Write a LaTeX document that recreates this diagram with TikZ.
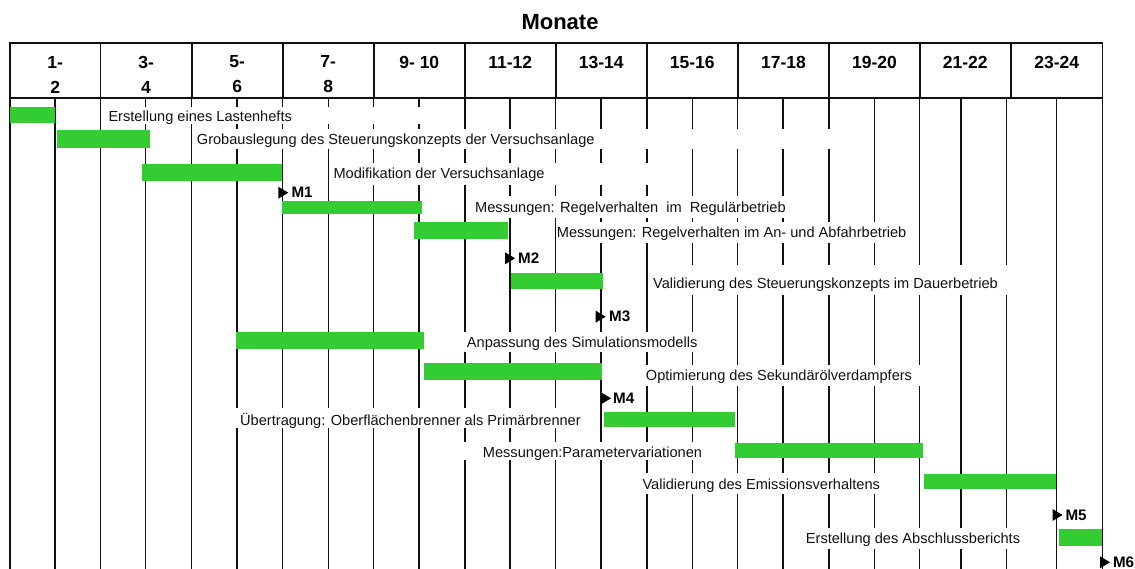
\documentclass[tikz,border=0pt]{standalone}
\usepackage{fontspec}
\setmainfont{Liberation Sans}
\definecolor{bargreen}{HTML}{33CC33}
\definecolor{ink}{HTML}{111111}
\begin{document}
\begin{tikzpicture}[x=1pt,y=-1pt,
  hdrline/.style={line width=1.8pt,draw=ink},
  gridline/.style={line width=1.4pt,draw=ink},
  title/.style={font=\bfseries\fontsize{22}{26}\selectfont,inner sep=0pt},
  hd/.style={font=\bfseries\fontsize{17.5}{25}\selectfont,align=center,inner sep=0pt},
  lbl/.style={font=\fontsize{14.6}{17}\selectfont,anchor=base west,inner sep=0pt,text=ink},
  mst/.style={font=\bfseries\fontsize{15.2}{17}\selectfont,anchor=west,inner sep=0pt},
  blank/.style={fill=white},
  bar/.style={fill=bargreen},
  ms/.pic={\fill[black] (0,-6) -- (10,0) -- (0,6) -- cycle;}
]
\useasboundingbox (0,0) rectangle (1135,569);

% month grid below the header
\foreach \x in {10,55,100.5,145.7,191.7,237,282.5,328.3,373.7,419,465,510,555.7,601,647,692.3,737.5,782.8,829,874.5,919.7,961,1006.5,1056.3,1102.5}
  \draw[gridline] (\x,97) -- (\x,569);

% header frame and two-month columns
\draw[hdrline] (10,43) rectangle (1102.5,98);
\foreach \x in {100.5,191.7,282.7,373.7,465,555.7,647,737.7,829.3,919.7,1011}
  \draw[hdrline] (\x,43) -- (\x,98);

\node[title] (title) at (560,21.7) {Monate};

\node[hd] (h1)  at (55.2,74.5)  {1-\\2};
\node[hd] (h2)  at (146.1,74.5) {3-\\4};
\node[hd] (h3)  at (237.2,74.5) {5-\\6};
\node[hd] (h4)  at (328.2,74.5) {7-\\8};
\node[hd] (h5)  at (419.3,62)   {9- 10};
\node[hd] (h6)  at (510.3,62)   {11-12};
\node[hd] (h7)  at (601.3,62)   {13-14};
\node[hd] (h8)  at (692.3,62)   {15-16};
\node[hd] (h9)  at (783.5,62)   {17-18};
\node[hd] (h10) at (874.5,62)   {19-20};
\node[hd] (h11) at (965.3,62)   {21-22};
\node[hd] (h12) at (1056.7,62)  {23-24};

% white text boxes interrupting the grid
\fill[blank] (103,107) rectangle (440,124);
\fill[blank] (192.5,129) rectangle (850,149);
\fill[blank] (329,163) rectangle (660,185);
\fill[blank] (468,196) rectangle (800,218);
\fill[blank] (556.5,222) rectangle (912,243);
\fill[blank] (648,265) rectangle (1030,295);
\fill[blank] (462,332) rectangle (700,352);
\fill[blank] (641,365) rectangle (925,386);
\fill[blank] (236,408) rectangle (590,428);
\fill[blank] (462,442) rectangle (720,460);
\fill[blank] (638,473) rectangle (895,494);
\fill[blank] (801,528) rectangle (1040,549);

% activity bars
\fill[bar] (10,107) rectangle (55,123);
\fill[bar] (56.7,130) rectangle (150,148);
\fill[bar] (142,164) rectangle (282.3,180.7);
\fill[bar] (282.3,200.7) rectangle (421.7,214.3);
\fill[bar] (414,222.3) rectangle (508.3,239.3);
\fill[bar] (510.7,273.3) rectangle (603.3,289.3);
\fill[bar] (235.7,331.7) rectangle (424.3,349);
\fill[bar] (424,363.3) rectangle (602.3,380);
\fill[bar] (603.5,412) rectangle (734.7,427);
\fill[bar] (734.7,443.3) rectangle (923.3,458.3);
\fill[bar] (924,474.3) rectangle (1056,489.3);
\fill[bar] (1059,529.3) rectangle (1101.7,545.7);

% activity labels
\node[lbl] (t1)  at (108.3,121.7) {Erstellung eines Lastenhefts};
\node[lbl] (t2)  at (196.7,145)   {Grobauslegung des Steuerungskonzepts der Versuchsanlage};
\node[lbl] (t3)  at (333.3,179)   {Modifikation der Versuchsanlage};
\node[lbl] (t4)  at (475,212.3)   {Messungen: Regelverhalten\ \ im\ \ Regulärbetrieb};
\node[lbl] (t5)  at (556.7,237.7) {Messungen: Regelverhalten im An- und Abfahrbetrieb};
\node[lbl] (t6)  at (653,288.3)   {Validierung des Steuerungskonzepts im Dauerbetrieb};
\node[lbl] (t7)  at (466.7,347.3) {Anpassung des Simulationsmodells};
\node[lbl] (t8)  at (645.7,380.5) {Optimierung des Sekundärölverdampfers};
\node[lbl] (t9)  at (240,425)     {Übertragung: Oberflächenbrenner als Primärbrenner};
\node[lbl] (t10) at (482.7,457.3) {Messungen:Parametervariationen};
\node[lbl] (t11) at (642.3,489)   {Validierung des Emissionsverhaltens};
\node[lbl] (t12) at (805.7,543.3) {Erstellung des Abschlussberichts};

% milestones
\pic at (278.3,192.7) {ms};  \node[mst] (m1) at (291.3,192.7) {M1};
\pic at (505,258.3)   {ms};  \node[mst] (m2) at (518,258.3)   {M2};
\pic at (595.7,316.7) {ms};  \node[mst] (m3) at (609,316.7)   {M3};
\pic at (601,398.3)   {ms};  \node[mst] (m4) at (613,398.3)   {M4};
\pic at (1052.5,515)  {ms};  \node[mst] (m5) at (1065.3,515)  {M5};
\pic at (1100,562.3)  {ms};  \node[mst] (m6) at (1112.8,562.3) {M6};
\end{tikzpicture}
\end{document}
